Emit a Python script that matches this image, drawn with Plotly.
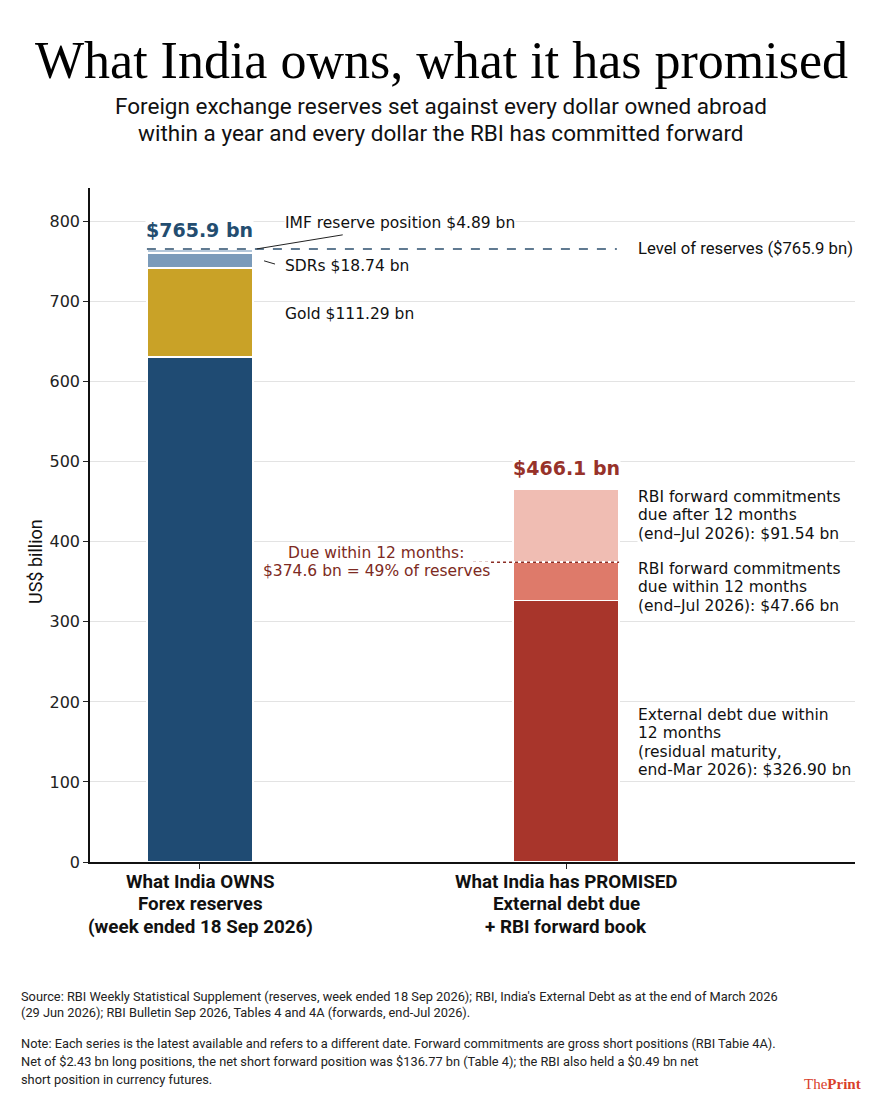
import plotly.graph_objects as go

# ---- data ----
categories = ["What India OWNS", "What India has PROMISED"]

owns_names = ["Foreign currency assets", "Gold", "SDRs", "IMF reserve position"]
owns_values = [630.98, 111.29, 18.74, 4.89]
owns_colors = ["#1f4b73", "#c9a227", "#7b9bba", "#b3c7da"]

promised_names = ["External debt due within 12 months",
                  "RBI forwards due within 12 months",
                  "RBI forwards due after 12 months"]
promised_values = [326.90, 47.66, 91.54]
promised_colors = ["#a8352b", "#de7a6a", "#f0bdb3"]

y_ticks = [0, 100, 200, 300, 400, 500, 600, 700, 800]

reserves_total = round(sum(owns_values), 1)          # 765.9
promised_total = round(sum(promised_values), 1)      # 466.1
due_12m = round(promised_values[0] + promised_values[1], 1)   # 374.6
due_share = round(100 * due_12m / reserves_total)

# ---- page geometry (pixels, page coords; the page body adds an 8px margin) ----
OFF = 8
W, H = 882 - OFF, 1102 - OFF
X0, Y0 = 90, 862            # page position of plot's left edge / zero line
L, R, T, B = X0 - OFF, 27, 188 - OFF, 240
PW, PH = W - L - R, H - T - B
BW = 0.29
CONDENSED = "Roboto, Liberation Sans Narrow, sans-serif"
DEJAVU = "DejaVu Sans, sans-serif"


def px(xp):
    return (xp - X0) / PW


def py(yp):
    return (Y0 - yp) / PH


fig = go.Figure()

for name, val, col in zip(owns_names, owns_values, owns_colors):
    fig.add_trace(go.Bar(x=[categories[0]], y=[val], name=name, width=BW,
                         marker=dict(color=col, line=dict(color="white", width=1.5)),
                         hoverinfo="name+y"))
for name, val, col in zip(promised_names, promised_values, promised_colors):
    fig.add_trace(go.Bar(x=[categories[1]], y=[val], name=name, width=BW,
                         marker=dict(color=col, line=dict(color="white", width=1.5)),
                         hoverinfo="name+y"))

fig.update_layout(
    barmode="stack",
    width=W, height=H,
    margin=dict(l=L, r=R, t=T, b=B),
    paper_bgcolor="white", plot_bgcolor="white",
    showlegend=False,
    font=dict(family=DEJAVU, color="#111"),
)
fig.update_xaxes(range=[-0.3005, 1.7896], showticklabels=False, ticks="outside",
                 ticklen=5, tickcolor="#222", showline=True, linecolor="#111",
                 linewidth=1.5, showgrid=False, zeroline=False)
fig.update_yaxes(range=[0, 842], tickvals=y_ticks, ticks="outside", ticklen=5,
                 tickcolor="#222", showline=True, linecolor="#111", linewidth=1.5,
                 showgrid=True, gridcolor="#e3e3e3", gridwidth=1, zeroline=False,
                 tickfont=dict(family=DEJAVU, size=16, color="#222"))

# reference lines
fig.add_shape(type="line", xref="x", yref="y", x0=-BW / 2, x1=1.139,
              y0=reserves_total, y1=reserves_total,
              line=dict(color="#2c4f6e", width=1.5, dash="dash"))
fig.add_shape(type="line", xref="x", yref="y", x0=0.746, x1=1 + BW / 2,
              y0=due_12m, y1=due_12m,
              line=dict(color="#8b2d24", width=1.5, dash="dot"))
# leader lines
fig.add_shape(type="line", xref="x", yref="y", x0=BW / 2 + 0.01, x1=0.39,
              y0=reserves_total, y1=783.5, line=dict(color="#222", width=1))
fig.add_shape(type="line", xref="x", yref="y", x0=BW / 2 + 0.03, x1=0.205,
              y0=751, y1=747, line=dict(color="#222", width=1))


def note(x, y, text, size=15.5, color="#111", family=DEJAVU, xanchor="left",
         xref="x", yref="y", bg="white", bold=False):
    if bold:
        text = "<b>" + text + "</b>"
    fig.add_annotation(x=x, y=y, xref=xref, yref=yref, text=text, showarrow=False,
                       xanchor=xanchor, yanchor="middle", bgcolor=bg, borderpad=0,
                       font=dict(family=family, size=size, color=color))


# totals
note(0, 790, f"${reserves_total} bn", size=19, color="#234d70", xanchor="center", bold=True)
note(1, 492, f"${promised_total} bn", size=19, color="#97322a", xanchor="center", bold=True)

# left bar labels
note(0.2295, 798.5, f"IMF reserve position ${owns_values[3]} bn")
note(0.2295, 744.7, f"SDRs ${owns_values[2]} bn")
note(0.2295, 684.6, f"Gold ${owns_values[1]} bn")
note(1.194, reserves_total, f"Level of reserves (${reserves_total} bn)", size=16.7,
     family=CONDENSED)

# right bar labels, one annotation per line
STEP = 18.5 / (PH / 842)


def block(center, lines, x=1.194, **kw):
    n = len(lines)
    for i, ln in enumerate(lines):
        note(x, center + ((n - 1) / 2 - i) * STEP, ln, **kw)


block(433, ["RBI forward commitments", "due after 12 months",
            f"(end–Jul 2026): ${promised_values[2]} bn"])
block(343, ["RBI forward commitments", "due within 12 months",
            f"(end–Jul 2026): ${promised_values[1]} bn"])
block(149, ["External debt due within", "12 months", "(residual maturity,",
            f"end-Mar 2026): ${promised_values[0]:.2f} bn"])
block(due_12m, ["Due within 12 months:", f"${due_12m} bn = {due_share}% of reserves"],
      x=0.481, xanchor="center", color="#7d2a22")

# category labels
cat_lines = [["What India OWNS", "Forex reserves", "(week ended 18 Sep 2026)"],
             ["What India has PROMISED", "External debt due", "+ RBI forward book"]]
for cx, lines in zip([200, 566], cat_lines):
    for i, ln in enumerate(lines):
        fig.add_annotation(x=px(cx), y=py(882 + 22.3 * i), xref="paper", yref="paper",
                           text="<b>" + ln + "</b>", showarrow=False, xanchor="center",
                           yanchor="middle", borderpad=0,
                           font=dict(family=CONDENSED, size=18.8, color="#111"))

# axis title
fig.add_annotation(x=px(35), y=py(562), xref="paper", yref="paper", text="US$ billion",
                   showarrow=False, textangle=-90, xanchor="center", yanchor="middle",
                   font=dict(family=CONDENSED, size=18, color="#111"))

# title & subtitle
note(px(441), py(60), "What India owns, what it has promised", size=52,
     family="Liberation Serif, serif", xanchor="center", xref="paper", yref="paper",
     color="#000", bg=None)
note(px(441), py(106), "Foreign exchange reserves set against every dollar owned abroad",
     size=22.5, family=CONDENSED, xanchor="center", xref="paper", yref="paper", bg=None)
note(px(441), py(133), "within a year and every dollar the RBI has committed forward",
     size=22.5, family=CONDENSED, xanchor="center", xref="paper", yref="paper", bg=None)

# footnotes
foot = [
    (996, "Source: RBI Weekly Statistical Supplement (reserves, week ended 18 Sep 2026); RBI, India's External Debt as at the end of March 2026"),
    (1013, "(29 Jun 2026); RBI Bulletin Sep 2026, Tables 4 and 4A (forwards, end-Jul 2026)."),
    (1043, "Note: Each series is the latest available and refers to a different date. Forward commitments are gross short positions (RBI Tabie 4A)."),
    (1061, "Net of $2.43 bn long positions, the net short forward position was $136.77 bn (Table 4); the RBI also held a $0.49 bn net"),
    (1079, "short position in currency futures."),
]
for yy, txt in foot:
    note(px(20), py(yy), txt, size=12.8, family=CONDENSED, xref="paper", yref="paper",
         color="#222", bg=None)

note(px(862), py(1084), "The<b>Print</b>", size=15, family="Liberation Serif, serif",
     xanchor="right", xref="paper", yref="paper", color="#d9402b", bg=None)

fig.write_html("out.html")
